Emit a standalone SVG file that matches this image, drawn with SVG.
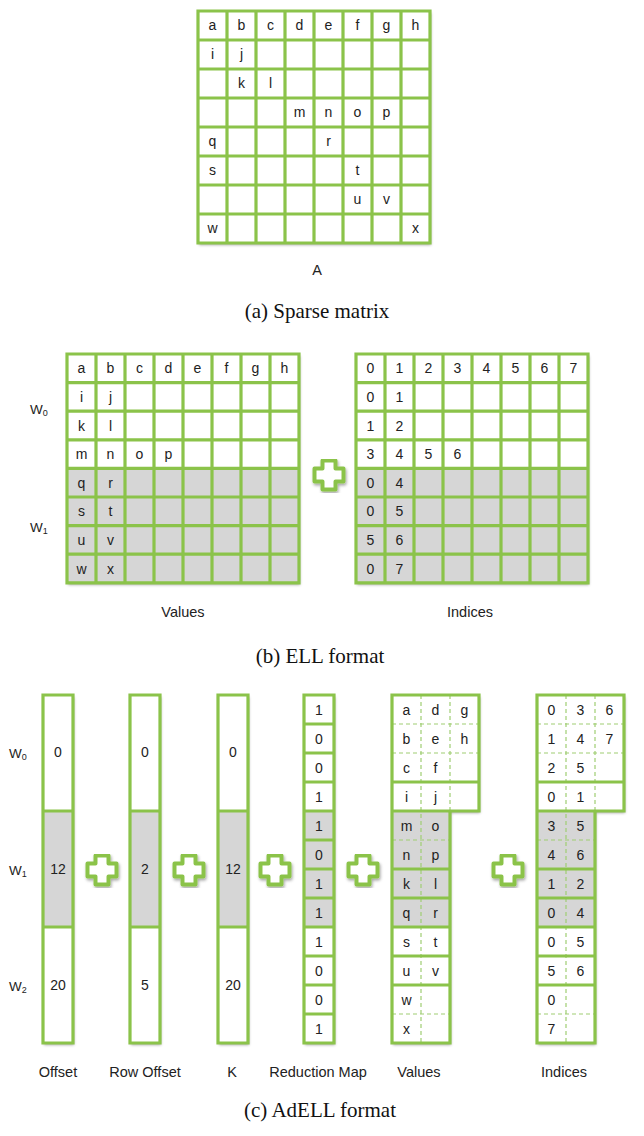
<svg xmlns="http://www.w3.org/2000/svg" xmlns:xlink="http://www.w3.org/1999/xlink" width="644" height="1136" viewBox="0 0 644 1136">
<style>
.g{fill:none;stroke:#8bc34a;stroke-width:3.2;stroke-linecap:square}
.d{fill:none;stroke:#9fcd72;stroke-width:1.2;stroke-dasharray:4 3}
.w{fill:#fff}
.s{fill:#d6d6d6}
.t{font-family:"Liberation Sans",Arial,sans-serif;font-size:14px;fill:#222;text-anchor:middle}
.l{font-family:"Liberation Sans",Arial,sans-serif;font-size:14.5px;fill:#222;text-anchor:middle}
.c{font-family:"Liberation Serif","Times New Roman",serif;font-size:21px;fill:#111;text-anchor:middle}
.wl{font-family:"Liberation Sans",Arial,sans-serif;font-size:13.5px;fill:#222}
.plus{fill:#fff;stroke:#8bc34a;stroke-width:4;stroke-linejoin:round}
</style>
<defs>
<filter id="sh" x="-20%" y="-5%" width="140%" height="115%">
<feDropShadow dx="1" dy="2" stdDeviation="1.5" flood-color="#000" flood-opacity="0.35"/>
</filter>
<path id="plusShape" d="M-6.5,-14.5H6.5V-6.5H14.5V6.5H6.5V14.5H-6.5V6.5H-14.5V-6.5H-6.5Z"/>
</defs>

<!-- (a) Sparse matrix -->
<g id="matrixA">
<rect class="w" x="198" y="11" width="232" height="232" filter="url(#sh)"/>
<path class="g" d="M198 11V243M227 11V243M256 11V243M285 11V243M314 11V243M343 11V243M372 11V243M401 11V243M430 11V243M198 11H430M198 40H430M198 69H430M198 98H430M198 127H430M198 156H430M198 185H430M198 214H430M198 243H430"/>
<g class="t">
<text x="212.5" y="30">a</text><text x="241.5" y="30">b</text><text x="270.5" y="30">c</text><text x="299.5" y="30">d</text><text x="328.5" y="30">e</text><text x="357.5" y="30">f</text><text x="386.5" y="30">g</text><text x="415.5" y="30">h</text>
<text x="212.5" y="59">i</text><text x="241.5" y="59">j</text>
<text x="241.5" y="88">k</text><text x="270.5" y="88">l</text>
<text x="299.5" y="117">m</text><text x="328.5" y="117">n</text><text x="357.5" y="117">o</text><text x="386.5" y="117">p</text>
<text x="212.5" y="146">q</text><text x="328.5" y="146">r</text>
<text x="212.5" y="175">s</text><text x="357.5" y="175">t</text>
<text x="357.5" y="204">u</text><text x="386.5" y="204">v</text>
<text x="212.5" y="233">w</text><text x="415.5" y="233">x</text>
</g>
<text class="l" x="317" y="275">A</text>
</g>
<text class="c" x="317" y="318">(a) Sparse matrix</text>

<!-- (b) ELL format -->
<g id="ellLabels" class="wl">
<text x="30" y="414">W<tspan font-size="9" dy="2">0</tspan></text>
<text x="30" y="532">W<tspan font-size="9" dy="2">1</tspan></text>
</g>
<g id="ellValues">
<rect class="w" x="67" y="354" width="232" height="228.8" filter="url(#sh)"/>
<rect class="s" x="67" y="468.4" width="232" height="114.4"/>
<path class="g" d="M67 354V582.8M96 354V582.8M125 354V582.8M154 354V582.8M183 354V582.8M212 354V582.8M241 354V582.8M270 354V582.8M299 354V582.8M67 354H299M67 382.6H299M67 411.2H299M67 439.8H299M67 468.4H299M67 497H299M67 525.6H299M67 554.2H299M67 582.8H299"/>
<g class="t">
<text x="81.5" y="373.3">a</text><text x="110.5" y="373.3">b</text><text x="139.5" y="373.3">c</text><text x="168.5" y="373.3">d</text><text x="197.5" y="373.3">e</text><text x="226.5" y="373.3">f</text><text x="255.5" y="373.3">g</text><text x="284.5" y="373.3">h</text>
<text x="81.5" y="401.9">i</text><text x="110.5" y="401.9">j</text>
<text x="81.5" y="430.5">k</text><text x="110.5" y="430.5">l</text>
<text x="81.5" y="459.1">m</text><text x="110.5" y="459.1">n</text><text x="139.5" y="459.1">o</text><text x="168.5" y="459.1">p</text>
<text x="81.5" y="487.7">q</text><text x="110.5" y="487.7">r</text>
<text x="81.5" y="516.3">s</text><text x="110.5" y="516.3">t</text>
<text x="81.5" y="544.9">u</text><text x="110.5" y="544.9">v</text>
<text x="81.5" y="573.5">w</text><text x="110.5" y="573.5">x</text>
</g>
<text class="l" x="183" y="617">Values</text>
</g>
<g id="ellPlus"><use href="#plusShape" class="plus" transform="translate(329,475)" filter="url(#sh)"/></g>
<g id="ellIndices">
<rect class="w" x="356" y="354" width="232" height="228.8" filter="url(#sh)"/>
<rect class="s" x="356" y="468.4" width="232" height="114.4"/>
<path class="g" d="M356 354V582.8M385 354V582.8M414 354V582.8M443 354V582.8M472 354V582.8M501 354V582.8M530 354V582.8M559 354V582.8M588 354V582.8M356 354H588M356 382.6H588M356 411.2H588M356 439.8H588M356 468.4H588M356 497H588M356 525.6H588M356 554.2H588M356 582.8H588"/>
<g class="t">
<text x="370.5" y="373.3">0</text><text x="399.5" y="373.3">1</text><text x="428.5" y="373.3">2</text><text x="457.5" y="373.3">3</text><text x="486.5" y="373.3">4</text><text x="515.5" y="373.3">5</text><text x="544.5" y="373.3">6</text><text x="573.5" y="373.3">7</text>
<text x="370.5" y="401.9">0</text><text x="399.5" y="401.9">1</text>
<text x="370.5" y="430.5">1</text><text x="399.5" y="430.5">2</text>
<text x="370.5" y="459.1">3</text><text x="399.5" y="459.1">4</text><text x="428.5" y="459.1">5</text><text x="457.5" y="459.1">6</text>
<text x="370.5" y="487.7">0</text><text x="399.5" y="487.7">4</text>
<text x="370.5" y="516.3">0</text><text x="399.5" y="516.3">5</text>
<text x="370.5" y="544.9">5</text><text x="399.5" y="544.9">6</text>
<text x="370.5" y="573.5">0</text><text x="399.5" y="573.5">7</text>
</g>
<text class="l" x="470" y="617">Indices</text>
</g>
<text class="c" x="320" y="663">(b) ELL format</text>

<!-- (c) AdELL format -->
<g id="adellLabels" class="wl">
<text x="9" y="758">W<tspan font-size="9" dy="2">0</tspan></text>
<text x="9" y="875">W<tspan font-size="9" dy="2">1</tspan></text>
<text x="9" y="991">W<tspan font-size="9" dy="2">2</tspan></text>
</g>
<g id="offset">
<rect class="w" x="43" y="695" width="30" height="348" filter="url(#sh)"/>
<rect class="s" x="43" y="811" width="30" height="116"/>
<path class="g" d="M43 695H73V1043H43ZM43 811H73M43 927H73"/>
<g class="t"><text x="58" y="757">0</text><text x="58" y="874">12</text><text x="58" y="990">20</text></g>
<text class="l" x="58" y="1077">Offset</text>
</g>
<g id="rowOffset">
<rect class="w" x="130" y="695" width="30" height="348" filter="url(#sh)"/>
<rect class="s" x="130" y="811" width="30" height="116"/>
<path class="g" d="M130 695H160V1043H130ZM130 811H160M130 927H160"/>
<g class="t"><text x="145" y="757">0</text><text x="145" y="874">2</text><text x="145" y="990">5</text></g>
<text class="l" x="145" y="1077">Row Offset</text>
</g>
<g id="k">
<rect class="w" x="218" y="695" width="30" height="348" filter="url(#sh)"/>
<rect class="s" x="218" y="811" width="30" height="116"/>
<path class="g" d="M218 695H248V1043H218ZM218 811H248M218 927H248"/>
<g class="t"><text x="233" y="757">0</text><text x="233" y="874">12</text><text x="233" y="990">20</text></g>
<text class="l" x="232" y="1077">K</text>
</g>
<g id="reductionMap">
<rect class="w" x="304" y="695" width="30" height="348" filter="url(#sh)"/>
<rect class="s" x="304" y="811" width="30" height="116"/>
<path class="g" d="M304 695H334V1043H304ZM304 724H334M304 753H334M304 782H334M304 811H334M304 840H334M304 869H334M304 898H334M304 927H334M304 956H334M304 985H334M304 1014H334"/>
<g class="t">
<text x="319" y="714.5">1</text><text x="319" y="743.5">0</text><text x="319" y="772.5">0</text><text x="319" y="801.5">1</text><text x="319" y="830.5">1</text><text x="319" y="859.5">0</text><text x="319" y="888.5">1</text><text x="319" y="917.5">1</text><text x="319" y="946.5">1</text><text x="319" y="975.5">0</text><text x="319" y="1004.5">0</text><text x="319" y="1033.5">1</text>
</g>
<text class="l" x="318" y="1077">Reduction Map</text>
</g>
<g id="adellValues">
<path class="w" d="M392 695H479V811H450V1043H392Z" filter="url(#sh)"/>
<rect class="s" x="392" y="811" width="58" height="116"/>
<path class="d" d="M421 695V1043M450 695V811M392 724H479M392 753H479M392 840H450M392 1014H450"/>
<path class="g" d="M392 695H479V811H450V1043H392ZM392 782H479M392 811H450M392 869H450M392 898H450M392 927H450M392 956H450M392 985H450"/>
<g class="t">
<text x="406.5" y="714.5">a</text><text x="435.5" y="714.5">d</text><text x="464.5" y="714.5">g</text>
<text x="406.5" y="743.5">b</text><text x="435.5" y="743.5">e</text><text x="464.5" y="743.5">h</text>
<text x="406.5" y="772.5">c</text><text x="435.5" y="772.5">f</text>
<text x="406.5" y="801.5">i</text><text x="435.5" y="801.5">j</text>
<text x="406.5" y="830.5">m</text><text x="435.5" y="830.5">o</text>
<text x="406.5" y="859.5">n</text><text x="435.5" y="859.5">p</text>
<text x="406.5" y="888.5">k</text><text x="435.5" y="888.5">l</text>
<text x="406.5" y="917.5">q</text><text x="435.5" y="917.5">r</text>
<text x="406.5" y="946.5">s</text><text x="435.5" y="946.5">t</text>
<text x="406.5" y="975.5">u</text><text x="435.5" y="975.5">v</text>
<text x="406.5" y="1004.5">w</text>
<text x="406.5" y="1033.5">x</text>
</g>
<text class="l" x="419" y="1077">Values</text>
</g>
<g id="adellIndices">
<path class="w" d="M537 695H624V811H595V1043H537Z" filter="url(#sh)"/>
<rect class="s" x="537" y="811" width="58" height="116"/>
<path class="d" d="M566 695V1043M595 695V811M537 724H624M537 753H624M537 840H595M537 1014H595"/>
<path class="g" d="M537 695H624V811H595V1043H537ZM537 782H624M537 811H595M537 869H595M537 898H595M537 927H595M537 956H595M537 985H595"/>
<g class="t">
<text x="551.5" y="714.5">0</text><text x="580.5" y="714.5">3</text><text x="609.5" y="714.5">6</text>
<text x="551.5" y="743.5">1</text><text x="580.5" y="743.5">4</text><text x="609.5" y="743.5">7</text>
<text x="551.5" y="772.5">2</text><text x="580.5" y="772.5">5</text>
<text x="551.5" y="801.5">0</text><text x="580.5" y="801.5">1</text>
<text x="551.5" y="830.5">3</text><text x="580.5" y="830.5">5</text>
<text x="551.5" y="859.5">4</text><text x="580.5" y="859.5">6</text>
<text x="551.5" y="888.5">1</text><text x="580.5" y="888.5">2</text>
<text x="551.5" y="917.5">0</text><text x="580.5" y="917.5">4</text>
<text x="551.5" y="946.5">0</text><text x="580.5" y="946.5">5</text>
<text x="551.5" y="975.5">5</text><text x="580.5" y="975.5">6</text>
<text x="551.5" y="1004.5">0</text>
<text x="551.5" y="1033.5">7</text>
</g>
<text class="l" x="564" y="1077">Indices</text>
</g>
<g id="adellPlus">
<use href="#plusShape" class="plus" transform="translate(102,870)" filter="url(#sh)"/>
<use href="#plusShape" class="plus" transform="translate(189,870)" filter="url(#sh)"/>
<use href="#plusShape" class="plus" transform="translate(275,870)" filter="url(#sh)"/>
<use href="#plusShape" class="plus" transform="translate(363,870)" filter="url(#sh)"/>
<use href="#plusShape" class="plus" transform="translate(508,870)" filter="url(#sh)"/>
</g>
<text class="c" x="320" y="1117">(c) AdELL format</text>
</svg>
